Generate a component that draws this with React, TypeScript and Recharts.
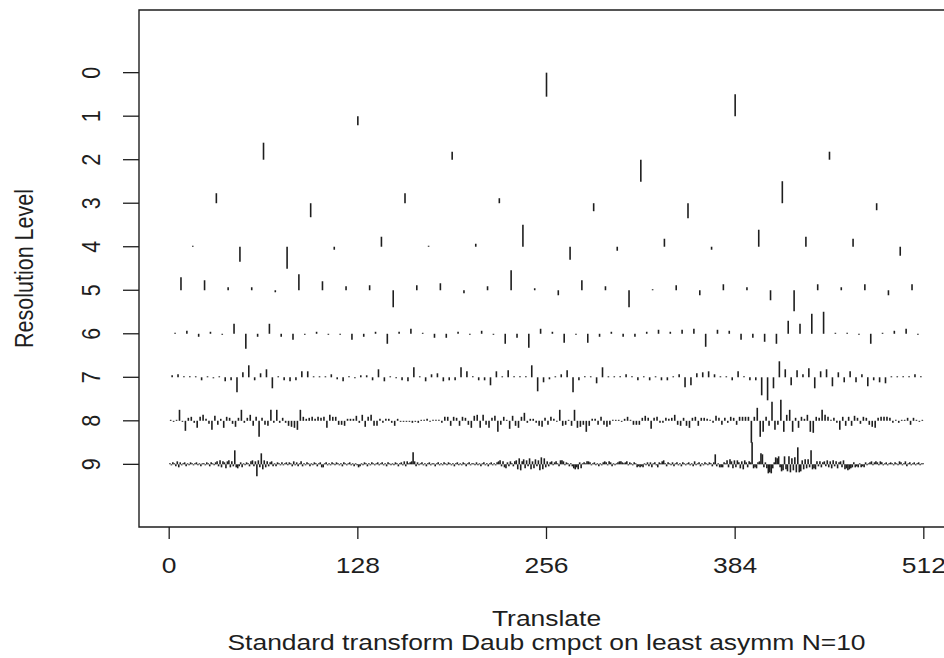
import React from 'react';
import { ComposedChart, Scatter, XAxis, YAxis, ErrorBar, ReferenceArea, Label } from 'recharts';

// Wavelet coefficients per resolution level (units: drawn length, ~43.5 units per level spacing; + = upward)
const LEVEL_0 = [-24];
const LEVEL_1 = [-9, 22];
const LEVEL_2 = [17, 8, -22, 8];
const LEVEL_3 = [10, -14, 10, 5, -8, -15, 22, -7];
const LEVEL_4 = [1, -15, -22, -3, 10, 1, 3, 22, -13, -4, 8, -3, 17, 10, 8, -9];
const LEVEL_5 = [
  13, 10, 3, 3, -2, 16, 9, 4, 5, -17, 5, 7, -3, 4, 20, 2,
  -5, 10, 4, -17, 1, 5, -5, 6, 3, -10, -21, 6, 3, 6, -5, 6,
];
const LEVEL_6 = [
  1, 3, -3, 2, -1, 10, -15, -3, 10, -3, -6, -1, 2, -1, -1, -6,
  -3, 2, -10, 2, 5, 1, -4, -4, 2, -1, 3, -1, -10, -4, -14, 5,
  2, -9, -1, -9, -3, 2, -3, -3, 2, 4, 2, 4, 5, -13, 4, 3,
  -6, -4, -8, -10, 13, 10, 20, 22, 1, 1, -1, -10, 1, 3, 5, -1,
];
const LEVEL_7 = [
  2, 3, 1, 1, 1, -3, 1, -1, 1, -4, -3, -15, 5, 12, -3, 4,
  8, -11, 1, -3, -4, -3, 6, 6, 1, 1, 1, 3, -2, -4, 1, -1,
  2, 2, -3, 8, -4, 1, -1, -3, -4, 10, 1, -4, 3, 4, -4, -3,
  -3, 10, 6, 1, -3, -3, -8, 6, 1, 7, 1, 1, 1, 12, -14, -5,
  -2, 1, 3, 7, -15, -3, 1, 1, -6, 10, 1, 1, 1, 3, 1, -3,
  1, -3, 1, -3, -3, 1, 3, -10, -8, 4, 5, 6, 3, 1, 1, -3,
  6, 1, -3, -3, -18, -23, -11, 16, 8, -8, 7, 3, 9, -11, 6, 8,
  -9, 5, -5, 6, -5, 3, -9, -3, -5, -6, 1, 1, 1, 1, 3, 1,
];
const LEVEL_8 = [
  1, -1, 1, 11, -1, -10, 3, 4, -2, -7, 4, 6, 2, -3, -9, 5,
  -4, 2, -7, 4, 3, -3, -6, 3, 11, -2, 3, 6, -5, 4, -16, 3,
  -4, -5, 11, -2, 11, -2, 3, -2, -5, -6, -7, -9, 11, 4, 2, 3,
  4, 2, 4, 3, 4, -7, 6, 4, 4, -4, -4, -5, 2, 2, 2, 5,
  -2, 6, -6, 4, 6, -5, -5, 2, -2, 2, 2, -2, -5, 2, -1, -1,
  -1, -1, -2, -1, -2, 1, 1, 2, -1, 1, 1, 1, -2, 4, 4, -5,
  4, 3, -5, 4, 3, -4, -7, 5, 6, -7, 6, -4, -7, 3, 5, -11,
  -4, 4, 1, -8, 5, -5, -7, 4, 8, -2, 2, 2, -2, -5, -6, 3,
  -4, 4, 2, -1, 11, -5, -4, 1, -5, 11, -7, -6, -4, -11, -5, 2,
  2, -4, 4, -4, -6, -4, 1, 1, 1, -1, 2, 4, 1, -4, -4, -4,
  3, 5, 3, -8, 3, 4, -2, -2, 3, 2, 3, 6, -4, -5, 3, -5,
  -7, 3, 4, -5, 3, 3, 2, 1, -2, 5, 3, -4, 3, -2, 4, 3,
  -4, 4, 4, 4, 4, -22, 4, 13, -16, -11, 4, -5, 19, -9, -4, 21,
  -11, 6, 11, -11, 3, -7, 4, 2, 6, -11, -12, 4, 3, 11, 6, 4,
  1, 3, -2, -9, 4, -5, 4, -5, 5, 3, -3, 4, 3, -4, -6, -7,
  3, 4, 4, 4, 3, -2, 1, -2, 1, 1, 3, -4, 3, 1, -1, 1,
];
const LEVEL_9 = [
  1, -1, 2, 1, -2, 3, -3, 2, -1, 1, 2, -2, 1, -1, 2, 1,
  -1, 1, 2, -1, 1, -2, 1, 1, -1, 2, 1, -2, 2, 1, -1, 2,
  3, -2, 4, -3, 3, 2, -4, 3, 4, -3, 3, -2, 14, -3, -4, -2,
  2, -3, 1, -1, 2, 1, -2, 3, 4, -2, 3, -12, 4, -3, 11, -5,
  4, -3, 3, -2, 2, 3, -2, 1, -2, 2, 1, -1, 2, -1, 1, 2,
  -1, 2, 1, -2, 3, -1, 2, -2, 1, 3, -2, 1, -1, 2, 1, -2,
  1, -1, 2, 1, -2, 1, 2, -3, -3, 1, 2, -1, 1, -1, 2, 1,
  -1, 2, 1, -1, 1, -2, 2, 1, -1, 1, 2, -1, 1, -2, 1, -1,
  -3, -2, 1, -1, 2, 1, -2, 1, -1, 2, 1, -1, 1, 2, -1, 1,
  2, -1, 1, -2, 2, 1, -1, 1, -1, 2, 1, -2, 1, 2, -1, 3,
  -2, 3, 1, 2, 3, 12, 3, -2, 2, -1, 1, 2, -1, 1, -2, 1,
  2, -1, 1, 1, -2, 1, 2, -1, 1, -1, 2, 1, -1, 2, 1, -1,
  1, -2, 1, 2, -1, 1, -1, 2, 1, -2, 1, 2, -1, 1, 1, -1,
  2, -1, 1, -2, 1, 2, -1, 1, -2, 1, 2, -1, 1, -1, 2, 3,
  4, -2, 3, -3, -4, 2, -2, 3, 1, -2, 3, 4, -5, 6, -6, 3,
  5, -4, 4, -2, 6, -5, 3, -4, 5, -2, 4, -6, 7, -5, 6, -3,
  3, -2, 2, 3, -1, 2, 3, 1, -2, 4, 4, 3, -1, 2, 1, -2,
  1, -2, -4, -5, -3, -5, 2, -4, 1, 2, 1, 3, 3, 2, -1, 1,
  2, -1, 1, -2, 1, -1, 2, 3, 2, -1, 3, 2, -2, 1, -1, 1,
  2, 3, 3, 2, 1, 2, 3, -1, 2, 1, -1, 2, 1, -3, -2, -3,
  -2, -3, 1, -1, 2, -2, 2, -3, 1, 2, -1, -3, 2, 1, 3, 4,
  1, -2, 2, 1, -1, 2, -2, 1, 2, -1, 1, -2, 2, 1, -1, 1,
  2, -1, 1, -2, 3, -1, 1, 2, -2, 1, -1, 2, 1, -1, 2, 1,
  -2, 2, 10, -2, 1, -3, -3, -3, 2, 1, 4, -3, 5, 3, -4, 4,
  -3, 4, 2, -4, 3, -5, 4, 2, -3, 3, 2, 22, -4, -3, -4, 2,
  3, 11, 10, -3, 2, -4, -9, -8, -9, -4, 2, 7, 6, 8, -3, -7,
  -6, 8, -5, -7, 8, -8, 6, -6, 7, -8, 17, -8, -7, 4, -5, 5,
  -4, 5, -3, 14, -5, -4, -5, 3, -2, 3, -3, 2, 3, -2, 4, -3,
  3, -4, 4, -2, 3, -4, 2, 3, -3, 4, -5, -4, -6, -5, -4, -3,
  2, -3, -2, -3, 1, -3, -2, -3, 2, -1, 1, 2, 3, -1, 2, 3,
  2, -1, 3, 2, -1, 1, 2, -1, 1, 2, 1, -1, 2, 1, -1, 3,
  2, -1, 1, 3, -2, 1, 2, -1, 1, 2, -1, 1, 2, -1, 1, 1,
];

const LEVELS = [LEVEL_0, LEVEL_1, LEVEL_2, LEVEL_3, LEVEL_4, LEVEL_5, LEVEL_6, LEVEL_7, LEVEL_8, LEVEL_9];
const X_TICKS = [0, 128, 256, 384, 512];
const Y_TICKS = [0, 1, 2, 3, 4, 5, 6, 7, 8, 9];
const X_TITLE = 'Translate';
const SUBTITLE = 'Standard transform Daub cmpct on least asymm N=10';
const Y_TITLE = 'Resolution Level';

const N_SAMPLES = 512;
const UNITS_PER_LEVEL = 43.5;
const X_DOMAIN = [-20.48, 532.48];
const Y_DOMAIN = [-1.44, 10.44];

const FONT = "'Liberation Sans', Arial, sans-serif";
const FONT_SIZE = 21.5;
const SX = 1.23;
const INK = '#1e1e1e';

function buildLevel(vals: number[], j: number) {
  const n = vals.length;
  return vals.map((c, k) => {
    const d = c / UNITS_PER_LEVEL;
    return { x: ((k + 0.5) * N_SAMPLES) / n, y: j, err: d > 0 ? [d, 0] : [0, -d] };
  });
}

const SERIES = LEVELS.map((vals, j) => buildLevel(vals, j));

const XTick = (props: any) => {
  const { x, y, payload } = props;
  return (
    <g transform={`translate(${x},${y + 34}) scale(${SX},1)`}>
      <text x={0} y={0} textAnchor="middle" fontFamily={FONT} fontSize={FONT_SIZE} fill={INK}>
        {payload.value}
      </text>
    </g>
  );
};

const YTick = (props: any) => {
  const { x, y, payload } = props;
  return (
    <g transform={`translate(${x - 23},${y}) scale(${SX},1) rotate(-90)`}>
      <text x={0} y={0} textAnchor="middle" fontFamily={FONT} fontSize={FONT_SIZE} fill={INK}>
        {payload.value}
      </text>
    </g>
  );
};

const XTitle = (props: any) => {
  const vb = props.viewBox || { x: 0, y: 0, width: 0, height: 0 };
  const cx = vb.x + vb.width / 2;
  return (
    <g>
      <g transform={`translate(${cx},${vb.y + 99}) scale(${SX},1)`}>
        <text textAnchor="middle" fontFamily={FONT} fontSize={FONT_SIZE} fill={INK}>{X_TITLE}</text>
      </g>
      <g transform={`translate(${cx},${vb.y + 123}) scale(${SX},1)`}>
        <text textAnchor="middle" fontFamily={FONT} fontSize={FONT_SIZE} fill={INK}>{SUBTITLE}</text>
      </g>
    </g>
  );
};

const YTitle = (props: any) => {
  const vb = props.viewBox || { x: 0, y: 0, width: 0, height: 0 };
  const bx = vb.x + vb.width - 106;
  const cy = vb.y + vb.height / 2;
  return (
    <g transform={`translate(${bx},${cy}) scale(${SX},1) rotate(-90)`}>
      <text textAnchor="middle" fontFamily={FONT} fontSize={FONT_SIZE} fill={INK}>{Y_TITLE}</text>
    </g>
  );
};

export default function App() {
  return (
    <div style={{ position: 'fixed', left: 0, top: 0, width: 944, height: 658, overflow: 'hidden', background: '#fff' }}>
      <ComposedChart width={960} height={658} margin={{ top: 10, right: 6, bottom: 71, left: 59 }}>
        <XAxis
          dataKey="x"
          type="number"
          domain={X_DOMAIN}
          allowDataOverflow
          ticks={X_TICKS}
          interval={0}
          height={60}
          axisLine={false}
          tickLine={{ stroke: INK, strokeWidth: 1.3 }}
          tickSize={12}
          tickMargin={0}
          tick={<XTick />}
        >
          <Label content={<XTitle />} />
        </XAxis>
        <YAxis
          dataKey="y"
          type="number"
          domain={Y_DOMAIN}
          allowDataOverflow
          reversed
          ticks={Y_TICKS}
          interval={0}
          width={80}
          axisLine={false}
          tickLine={{ stroke: INK, strokeWidth: 1.3 }}
          tickSize={16}
          tickMargin={0}
          tick={<YTick />}
        >
          <Label content={<YTitle />} />
        </YAxis>
        <ReferenceArea
          x1={X_DOMAIN[0]}
          x2={X_DOMAIN[1]}
          y1={Y_DOMAIN[0]}
          y2={Y_DOMAIN[1]}
          fill="none"
          fillOpacity={0}
          stroke={INK}
          strokeWidth={1.4}
          ifOverflow="visible"
        />
        {SERIES.map((data, j) => (
          <Scatter
            key={j}
            data={data}
            dataKey="y"
            isAnimationActive={false}
            shape={() => <g />}
          >
            <ErrorBar
              dataKey="err"
              direction="y"
              width={0}
              stroke={INK}
              strokeWidth={1.6}
              isAnimationActive={false}
            />
          </Scatter>
        ))}
      </ComposedChart>
    </div>
  );
}
